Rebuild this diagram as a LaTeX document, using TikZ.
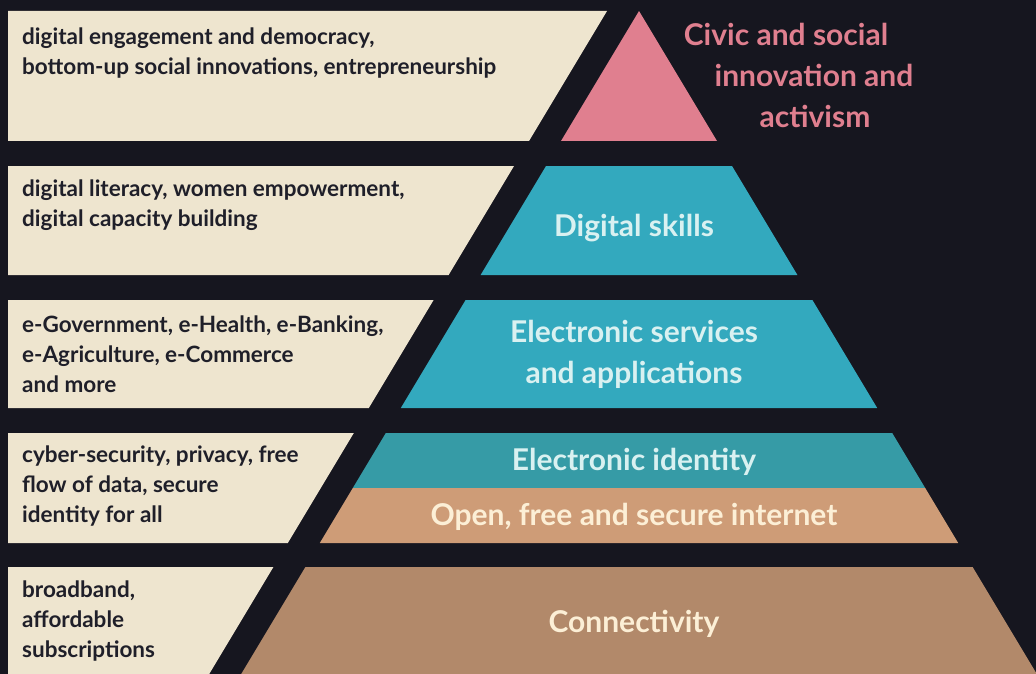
\documentclass[tikz,border=0pt]{standalone}
\usepackage{fontspec}
\setmainfont{Lato}
\definecolor{night}{HTML}{16161F}
\definecolor{paper}{HTML}{EEE5CF}
\definecolor{ink}{HTML}{1F1F29}
\definecolor{rose}{HTML}{E07F8F}
\definecolor{teal}{HTML}{33A9BE}
\definecolor{deepteal}{HTML}{369BA6}
\definecolor{sand}{HTML}{CE9C77}
\definecolor{clay}{HTML}{B2896A}
\definecolor{ice}{HTML}{D9F1F1}
\definecolor{cream}{HTML}{FCEFD6}

\begin{document}
\begin{tikzpicture}[x=1pt,y=-1pt]
        \tikzset{
          note/.style={anchor=west,inner sep=0pt,font=\fontsize{22.5}{30}\selectfont\bfseries,text=ink,align=left},
          level/.style={font=\fontsize{30}{41}\selectfont\bfseries,align=center}
        }
        \fill[night] (0,0) rectangle (1036,674);
        \useasboundingbox (0,0) rectangle (1036,674);
        \begin{scope}
           % left panels
           \fill[paper] (8,11) -- (607,11) -- (529,141) -- (8,141) -- cycle;
           \fill[paper] (8,166) -- (514,166) -- (448.6,275) -- (8,275) -- cycle;
           \fill[paper] (8,300) -- (433.6,300) -- (368.8,408) -- (8,408) -- cycle;
           \fill[paper] (8,433) -- (353.8,433) -- (287.8,543) -- (8,543) -- cycle;
           \fill[paper] (8,567) -- (273.4,567) -- (209.2,674) -- (8,674) -- cycle;

           % pyramid
           \fill[rose] (639,11) -- (717,141) -- (561,141) -- cycle;
           \fill[teal] (546,166) -- (732,166) -- (797.4,275) -- (480.6,275) -- cycle;
           \fill[teal] (465.6,300) -- (812.4,300) -- (877.2,408) -- (400.8,408) -- cycle;
           \fill[deepteal] (385.8,433) -- (892.2,433) -- (925.2,488) -- (352.8,488) -- cycle;
           \fill[sand] (352.8,488) -- (925.2,488) -- (958.2,543) -- (319.8,543) -- cycle;
           \fill[clay] (305.4,567) -- (972.6,567) -- (1036.8,674) -- (241.2,674) -- cycle;
        \end{scope}

        % labels on the left
        \node[note] (civicnote) at (22,53) {digital engagement and democracy,\\bottom-up social innovations, entrepreneurship};
        \node[note] (skillsnote) at (22,205) {digital literacy, women empowerment,\\digital capacity building};
        \node[note] (servicesnote) at (22,354) {e-Government, e-Health, e-Banking,\\e-Agriculture, e-Commerce\\and more};
        \node[note] (identitynote) at (22,486) {cyber-security, privacy, free\\flow of data, secure\\identity for all};
        \node[note] (connectnote) at (22,621) {broadband,\\affordable\\subscriptions};

        % labels on the pyramid
        \node[level,text=rose] (civicA) at (786,34) {Civic and social};
        \node[level,text=rose] (civicB) at (814,75) {innovation and};
        \node[level,text=rose] (civicC) at (815,116) {activism};
        \node[level,text=ice] (skills) at (634,228) {Digital skills};
        \node[level,text=ice] (services) at (634,354) {Electronic services\\and applications};
        \node[level,text=ice] (identity) at (634,462) {Electronic identity};
        \node[level,text=cream] (internet) at (634,517) {Open, free and secure internet};
        \node[level,text=cream] (connect) at (634,624) {Connectivity};
\end{tikzpicture}
\end{document}
